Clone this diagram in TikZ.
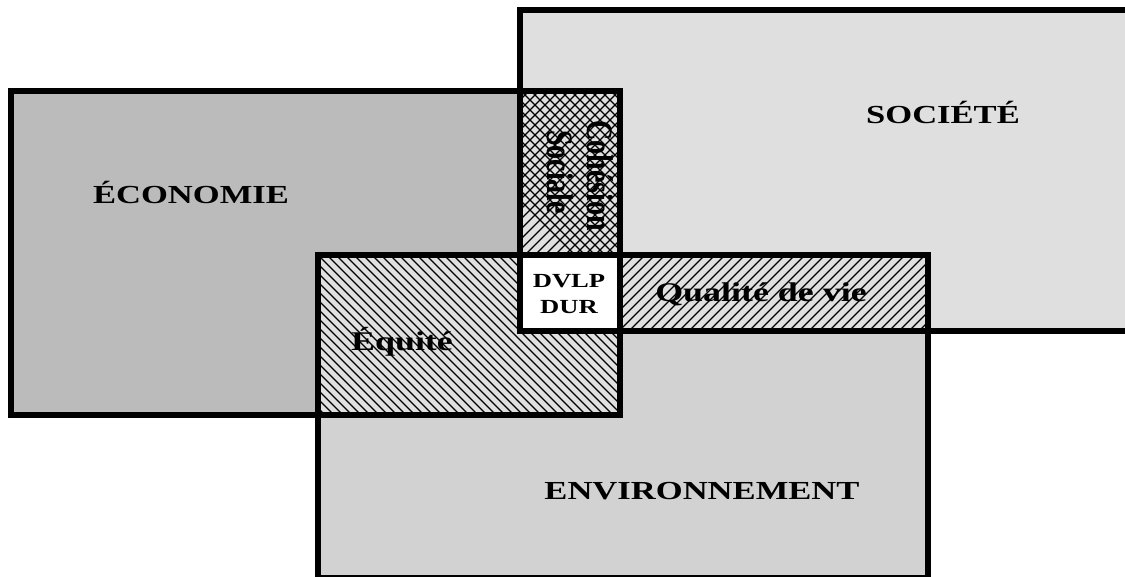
\documentclass[tikz,border=0pt]{standalone}
\usepackage{fontspec}
\setmainfont{Liberation Serif}
\usepackage{graphicx}
\definecolor{ecocol}{HTML}{BBBBBB}
\definecolor{soccol}{HTML}{DFDFDF}
\definecolor{envcol}{HTML}{D2D2D2}
\definecolor{hatcol}{HTML}{E0E0E0}
\newcommand{\hstretch}[1]{\scalebox{1.33}[1]{#1}}
\newcommand{\vstretch}[1]{\scalebox{1}[1.33]{#1}}
\begin{document}
\begin{tikzpicture}[x=1pt,y=-1pt,
  border/.style={draw=black,line width=6pt},
  hatchline/.style={draw=black,line width=1.1pt},
  big/.style={font=\fontsize{26}{30}\selectfont\bfseries,inner sep=0pt,anchor=base},
  mid/.style={font=\fontsize{27}{30}\selectfont\bfseries,inner sep=0pt,anchor=base},
  small/.style={font=\fontsize{20}{24}\selectfont\bfseries,inner sep=0pt,anchor=base},
  vert/.style={font=\fontsize{28}{30}\selectfont\bfseries,inner sep=0pt,rotate=-90}]
\useasboundingbox (0,0) rectangle (1125,576);
\fill[white] (0,0) rectangle (1125,576);
\clip (0,0) rectangle (1125,576);
% fills
\fill[ecocol] (11,91) rectangle (620,415);
\fill[soccol] (520,10) rectangle (1140,331);
\fill[envcol] (318,255) rectangle (928,578);
% Cohesion sociale: cross hatch
\begin{scope}
\clip (520,91) rectangle (620,255);
\fill[hatcol] (520,91) rectangle (620,255);
\foreach \c in {320,330,...,900} {
  \draw[hatchline] (\c,0) -- (\c+400,400);
  \draw[hatchline] (\c,0) -- (\c-400,400);
}
\end{scope}
% DVLP DUR
\fill[white] (520,255) rectangle (620,331);
% Qualite de vie: / lines
\begin{scope}
\clip (620,255) rectangle (928,331);
\fill[hatcol] (620,255) rectangle (928,331);
\foreach \c in {870,880,...,1270} {
  \draw[hatchline] (\c,0) -- (\c-400,400);
}
\end{scope}
% Equite: \ lines
\begin{scope}
\clip (318,255) -- (520,255) -- (520,331) -- (620,331) -- (620,415) -- (318,415) -- cycle;
\fill[hatcol] (318,255) rectangle (620,415);
\foreach \c in {-108,-99,...,630} {
  \draw[hatchline] (\c,0) -- (\c+450,450);
}
\end{scope}
% borders
\draw[border] (11,91) rectangle (620,415);
\draw[border] (520,10) rectangle (1140,331);
\draw[border] (318,255) rectangle (928,578);
% labels
\node[big] (eco) at (191,203) {\hstretch{ÉCONOMIE}};
\node[big] (soc) at (943,123) {\hstretch{SOCIÉTÉ}};
\node[big] (env) at (702,499) {\hstretch{ENVIRONNEMENT}};
\node[mid] (qual) at (761,301) {\hstretch{Qualité de vie}};
\node[mid] (equ) at (402,350) {\hstretch{Équité}};
\node[small] (dvlp) at (569,287) {\hstretch{DVLP}};
\node[small] (dur) at (569,313) {\hstretch{DUR}};
\node[vert] (coh) at (600,176) {\vstretch{Cohésion}};
\node[vert] (soci) at (560,172) {\vstretch{Sociale}};
\end{tikzpicture}
\end{document}
